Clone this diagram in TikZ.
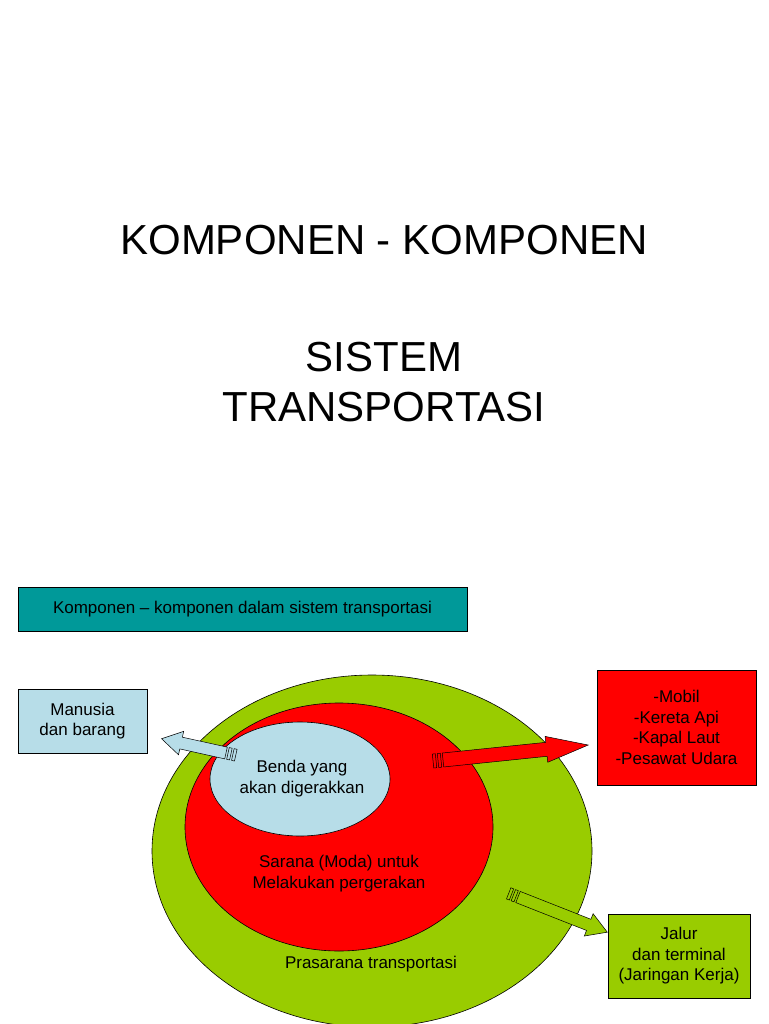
\documentclass[tikz,border=0pt]{standalone}
\usepackage{fontspec}
\setmainfont{Liberation Sans}
\begin{document}
\begin{tikzpicture}[x=1pt,y=-1pt,
  box/.style={draw=black,line width=0.6pt,inner sep=0pt,align=center,font=\fontsize{17}{20.5}\selectfont},
  lbl/.style={align=center,font=\fontsize{17}{21}\selectfont},
  ttl/.style={align=center,font=\fontsize{42}{50}\selectfont}]
\useasboundingbox (0,0) rectangle (768,1024);
\clip (0,0) rectangle (768,1024);
\definecolor{grn}{RGB}{153,204,0}
\definecolor{lb}{RGB}{183,221,232}
\definecolor{teal}{RGB}{0,153,153}
\newcommand{\blockarrow}[7]{% pos, angle, length, shaft, head, headlen, fill
  \begin{scope}[shift={#1},rotate=#2]
    \filldraw[fill=#7,draw=black,line width=0.5pt] (0,-#4) -- ({#3-#6},-#4) -- ({#3-#6},-#5) -- (#3,0) -- ({#3-#6},#5) -- ({#3-#6},#4) -- (0,#4) -- cycle;
    \filldraw[fill=#7,draw=black,line width=0.5pt] (-5,-#4) rectangle (-2,#4);
    \filldraw[fill=#7,draw=black,line width=0.5pt] (-10,-#4) rectangle (-7,#4);
  \end{scope}}
\node[ttl] (t1) at (384,240) {KOMPONEN - KOMPONEN};
\node[ttl] (t2) at (384,382) {SISTEM\\TRANSPORTASI};
\node[box,fill=teal,minimum width=449,minimum height=44] (hdr) at (242.5,609) {Komponen -- komponen dalam sistem transportasi};
\node[box,fill=lb,minimum width=129,minimum height=64] (man) at (82.5,721) {Manusia\\dan barang};
\node[box,fill=red,minimum width=159,minimum height=115] (moda) at (676.5,727.5) {-Mobil\\-Kereta Api\\-Kapal Laut\\-Pesawat Udara};
\node[box,fill=grn,minimum width=142,minimum height=84] (jal) at (679,956) {Jalur\\dan terminal\\(Jaringan Kerja)};
\draw[fill=grn,line width=0.6pt] (372,851) ellipse [x radius=220,y radius=176];
\draw[fill=red,line width=0.6pt] (339,827) ellipse [x radius=154,y radius=124];
\draw[fill=lb,line width=0.6pt] (300,779) ellipse [x radius=90,y radius=57];
\node[lbl] (benda) at (302,779) {Benda yang\\akan digerakkan};
\node[lbl] (sarana) at (339,874) {Sarana (Moda) untuk\\Melakukan pergerakan};
\node[lbl] (pras) at (371,964) {Prasarana transportasi};
\blockarrow{(226,753)}{167.5}{66}{6}{12}{20}{lb}
\blockarrow{(443,760)}{5.9}{146}{7}{13}{42}{red}
\blockarrow{(518,897)}{-21.5}{96}{6}{12}{20}{grn}
\end{tikzpicture}
\end{document}
